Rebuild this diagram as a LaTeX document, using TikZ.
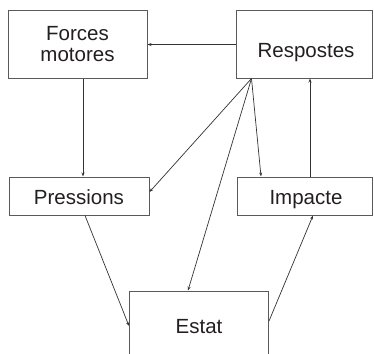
\documentclass[tikz,border=0pt]{standalone}
\usepackage{fontspec}
\setmainfont{Liberation Sans}
\usetikzlibrary{arrows.meta}
\definecolor{boxline}{HTML}{5A5A5A}
\definecolor{txt}{HTML}{231F20}
\definecolor{arr}{HTML}{333333}
\begin{document}
\begin{tikzpicture}[x=1pt,y=-1pt,
  box/.style={draw=boxline,line width=1pt,inner sep=0pt,text=txt,
    font=\fontsize{20.5}{21}\selectfont},
  oneline/.style={text height=14.7pt,text depth=0pt},
  conn/.style={draw=arr,line width=0.7pt,-{Stealth[length=4pt,width=3pt]}}]
\clip (0,0) rectangle (374,353);
\fill[white] (0,0) rectangle (374,353);
\node[box,align=center,minimum width=139pt,minimum height=67pt] (forces) at (77.5,44.5) {Forces\\motores};
\node[box,oneline,minimum width=136pt,minimum height=67pt] (resp) at (304,44.5) {\hspace*{4pt}\raisebox{-5.5pt}{Respostes}};
\node[box,oneline,minimum width=140pt,minimum height=38pt] (press) at (79,196) {\raisebox{-1.5pt}{Pressions}};
\node[box,oneline,minimum width=135pt,minimum height=38pt] (imp) at (304.5,196) {\hspace*{3pt}\raisebox{-1.5pt}{Impacte}};
\node[box,oneline,minimum width=139pt,minimum height=70pt] (estat) at (199,326) {Estat};
\coordinate (fan) at ([xshift=16pt]resp.south west);
\draw[conn] (resp.west) -- (forces.east);
\draw[conn] ([xshift=5.5pt]forces.south) -- ([xshift=4pt]press.north);
\draw[conn] (fan) -- ([yshift=4pt]press.east);
\draw[conn] (fan) -- ([xshift=-11pt]estat.north);
\draw[conn] (fan) -- ([xshift=-43.5pt]imp.north);
\draw[conn] ([xshift=5.5pt]imp.north) -- ([xshift=6pt]resp.south);
\draw[conn] ([xshift=6pt]press.south) -- (estat.west);
\draw[conn] ([yshift=5pt]estat.east) -- ([xshift=8.5pt]imp.south);
\end{tikzpicture}
\end{document}
